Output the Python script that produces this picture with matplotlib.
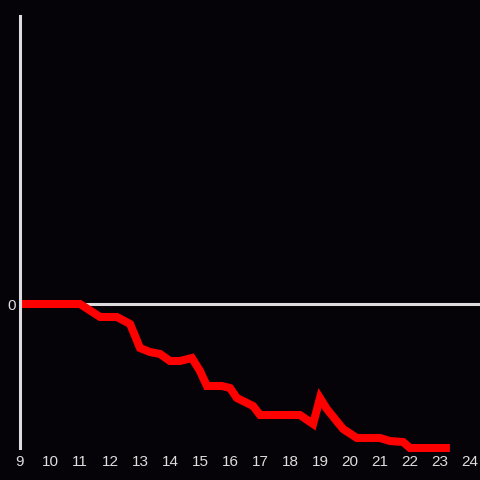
import matplotlib
matplotlib.use("Agg")
import matplotlib.pyplot as plt

# hours of the day and the running value (0 = start level)
hours = [9.0, 11.0, 11.67, 12.23, 12.67, 13.0, 13.33, 13.67, 14.0, 14.33,
         14.73, 15.0, 15.23, 15.73, 16.0, 16.23, 16.77, 17.0, 18.33, 18.77,
         19.0, 19.23, 19.77, 20.23, 21.0, 21.33, 21.77, 22.0, 23.33]
values = [0, 0, -13, -13, -20, -44, -48, -50, -57, -57,
          -54, -67, -82, -82, -84, -94, -102, -111, -111, -120,
          -94, -105, -125, -134, -134, -137, -138, -144, -144]
xticks = list(range(9, 25))

BG = '#050307'
FG = '#dddddd'

plt.rcParams['font.family'] = ['Liberation Sans', 'DejaVu Sans']

fig = plt.figure(figsize=(4.8, 4.8), dpi=100, facecolor=BG)
ax = fig.add_axes([20 / 480, 32 / 480, 460 / 480, 432 / 480], facecolor=BG)

ax.axhline(0, color=FG, lw=2.2, zorder=1)
ax.plot(hours, values, color='#ff0000', lw=5.8, solid_joinstyle='miter',
        solid_capstyle='butt', clip_on=False, zorder=3)

ax.set_xlim(9, 9 + 460 / 30)
ax.set_ylim(-144, 288)
ax.set_xticks(xticks)
ax.set_yticks([0])

for s in ['top', 'right', 'bottom']:
    ax.spines[s].set_visible(False)
ax.spines['left'].set_color(FG)
ax.spines['left'].set_linewidth(2.2)
ax.spines['left'].set_zorder(4)

ax.tick_params(axis='x', length=0, pad=5, labelsize=11, labelcolor=FG)
ax.tick_params(axis='y', length=0, pad=3, labelsize=11, labelcolor=FG)

fig.savefig('out.png', dpi=100, facecolor=BG)
